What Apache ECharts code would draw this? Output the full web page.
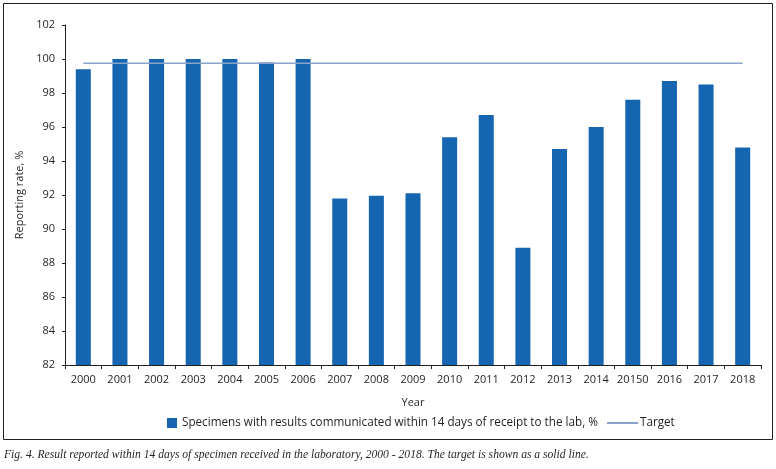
<!DOCTYPE html>
<html><head><meta charset="utf-8">
<script src="https://cdn.jsdelivr.net/npm/echarts@6/dist/echarts.min.js"></script>
<style>html,body{margin:0;padding:0;background:#fff}#c{width:776px;height:469px}</style>
</head><body><div id="c"></div>
<script>
const years = ['2000','2001','2002','2003','2004','2005','2006','2007','2008','2009','2010','2011','2012','2013','2014','20150','2016','2017','2018'];
const reportingRate = [99.4,100,100,100,100,99.8,100,91.8,91.95,92.1,95.4,96.7,88.9,94.7,96.0,97.6,98.7,98.5,94.8];
const target = 99.75;
const yTicks = {min:82, max:102, interval:2};
const barName = 'Specimens with results communicated within 14 days of receipt to the lab, %';
const lineName = 'Target';
const caption = 'Fig. 4. Result reported within 14 days of specimen received in the laboratory, 2000 - 2018. The target is shown as a solid line.';

const font = 'Open Sans';
const legText = {fontFamily:font, fontSize:11.7, color:'#231f20'};
const chart = echarts.init(document.getElementById('c'), null, {renderer:'canvas'});
chart.setOption({
  animation:false,
  backgroundColor:'#fff',
  textStyle:{fontFamily:font},
  grid:{left:65, right:15, top:25, bottom:104},
  legend:[
    {left:162, top:412, itemWidth:10, itemHeight:10, itemGap:6,
     textStyle:legText, data:[{name:barName, icon:'rect'}]},
    {left:601, top:412, itemWidth:31, itemHeight:10, itemGap:2,
     textStyle:Object.assign({}, legText, {padding:[0,0,0,-3]}), data:[{name:lineName, itemStyle:{opacity:0}}]}
  ],
  xAxis:{
    type:'category', data:years, name:'Year', nameLocation:'middle', nameGap:32,
    nameTextStyle:{fontFamily:font, fontSize:11, color:'#231f20'},
    axisLine:{lineStyle:{color:'#231f20', width:1}},
    axisTick:{show:true, length:4, lineStyle:{color:'#231f20'}},
    axisLabel:{fontFamily:font, fontSize:11, color:'#231f20', margin:9, interval:0},
    splitLine:{show:false}
  },
  yAxis:{
    type:'value', min:yTicks.min, max:yTicks.max, interval:yTicks.interval,
    name:'Reporting rate, %', nameLocation:'middle', nameGap:37,
    nameTextStyle:{fontFamily:font, fontSize:11, color:'#231f20'},
    axisLine:{show:true, lineStyle:{color:'#231f20', width:1}},
    axisTick:{show:true, length:3, lineStyle:{color:'#231f20'}},
    axisLabel:{fontFamily:font, fontSize:11, color:'#231f20', margin:10},
    splitLine:{show:false}
  },
  series:[
    {name:barName, type:'bar', data:reportingRate, barWidth:'41%',
     itemStyle:{color:'#1665b0'}, z:2},
    {name:lineName, type:'line', data:years.map(()=>target), symbol:'none',
     lineStyle:{color:'#8aa3cb', width:1.3}, itemStyle:{color:'#8aa3cb'}, z:3}
  ],
  graphic:[
    {type:'rect', shape:{x:3.5, y:3.5, width:769, height:436}, style:{fill:null, stroke:'#231f20', lineWidth:1}, z:-1},
    {type:'text', left:4, top:449, style:{text:caption, font:'italic 11.6px "Liberation Serif"', fill:'#231f20'}}
  ]
});
</script></body></html>
